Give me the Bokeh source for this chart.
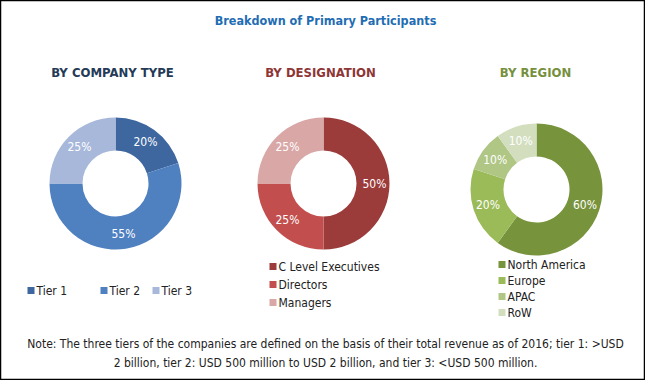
import math
from bokeh.plotting import figure
from bokeh.models import Range1d, ColumnDataSource
from bokeh.core.properties import value
from bokeh.embed import file_html
from bokeh.resources import INLINE

# ---- data ----
company_cats = ["Tier 1", "Tier 2", "Tier 3"]
company_vals = [20, 55, 25]
company_colors = ["#3E67A0", "#4F80C0", "#A7B8DA"]

designation_cats = ["C Level Executives", "Directors", "Managers"]
designation_vals = [50, 25, 25]
designation_colors = ["#9B3B3A", "#C24F4E", "#D9A7A6"]

region_cats = ["North America", "Europe", "APAC", "RoW"]
region_vals = [60, 20, 10, 10]
region_colors = ["#77933C", "#9BBB59", "#AFC685", "#D3DEBF"]

main_title = "Breakdown of Primary Participants"
panel_titles = ["BY COMPANY TYPE", "BY DESIGNATION", "BY REGION"]
note_lines = [
    "Note: The three tiers of the companies are defined on the basis of their total revenue as of 2016; tier 1: >USD",
    "2 billion, tier 2: USD 500 million to USD 2 billion, and tier 3: <USD 500 million.",
]

FONT = "Liberation Sans Narrow, DejaVu Sans Condensed, Liberation Sans, sans-serif"

W, H = 645, 380
p = figure(width=W, height=H, output_backend="svg", toolbar_location=None,
           x_range=Range1d(0, W), y_range=Range1d(0, H),
           min_border=0)
p.axis.visible = False
p.xgrid.visible = False
p.ygrid.visible = False
p.outline_line_color = "black"
p.outline_line_width = 1.5
p.background_fill_color = "white"


def Y(ry):
    return H - ry


def donut(cx, cy, vals, colors, r_out=66, r_in=33, r_lab=51):
    total = float(sum(vals))
    starts, ends, lx, ly, labs = [], [], [], [], []
    cum = 0.0
    for v in vals:
        a0 = math.pi / 2 - 2 * math.pi * cum / total
        cum += v
        a1 = math.pi / 2 - 2 * math.pi * cum / total
        starts.append(a0)
        ends.append(a1)
        mid = (a0 + a1) / 2
        lx.append(cx + r_lab * math.cos(mid))
        ly.append(Y(cy) + r_lab * math.sin(mid))
        labs.append(f"{v}%")
    src = ColumnDataSource(dict(s=starts, e=ends, c=colors))
    p.annular_wedge(x=cx, y=Y(cy), inner_radius=r_in, outer_radius=r_out,
                    start_angle="s", end_angle="e", direction="clock",
                    fill_color="c", line_color=None, source=src)
    p.text(x=lx, y=ly, text=labs, text_color="white", text_font=value(FONT),
           text_font_size="12px", text_align="center", text_baseline="middle")


donut(115, 183, company_vals, company_colors)
donut(323, 183, designation_vals, designation_colors)
donut(536, 189, region_vals, region_colors)

# titles
p.text(x=[325], y=[Y(20)], text=[main_title], text_color="#1F6DB3",
       text_font=value(FONT), text_font_size="12.5px", text_font_style="bold",
       text_align="center", text_baseline="middle")
p.text(x=[112, 320, 535], y=[Y(72)] * 3, text=panel_titles,
       text_color=["#243A56", "#8E3535", "#76903E"],
       text_font=value(FONT), text_font_size="13px", text_font_style="bold",
       text_align="center", text_baseline="middle")

# legends
def legend(xs, ys, cats, colors):
    p.rect(x=[x + 3.5 for x in xs], y=[Y(y) for y in ys], width=7, height=7,
           fill_color=colors, line_color=None)
    p.text(x=[x + 9 for x in xs], y=[Y(y) for y in ys], text=cats,
           text_color="#222222", text_font=value(FONT), text_font_size="12px",
           text_align="left", text_baseline="middle")

legend([27, 100, 152], [290] * 3, company_cats, company_colors)
legend([269] * 3, [266, 284, 302], designation_cats, designation_colors)
legend([498] * 4, [264, 280, 296, 312], region_cats, region_colors)

# note
p.text(x=[325, 325], y=[Y(343), Y(362)], text=note_lines, text_color="#222222",
       text_font=value(FONT), text_font_size="12px",
       text_align="center", text_baseline="middle")

open("out.html", "w").write(file_html(p, INLINE))
